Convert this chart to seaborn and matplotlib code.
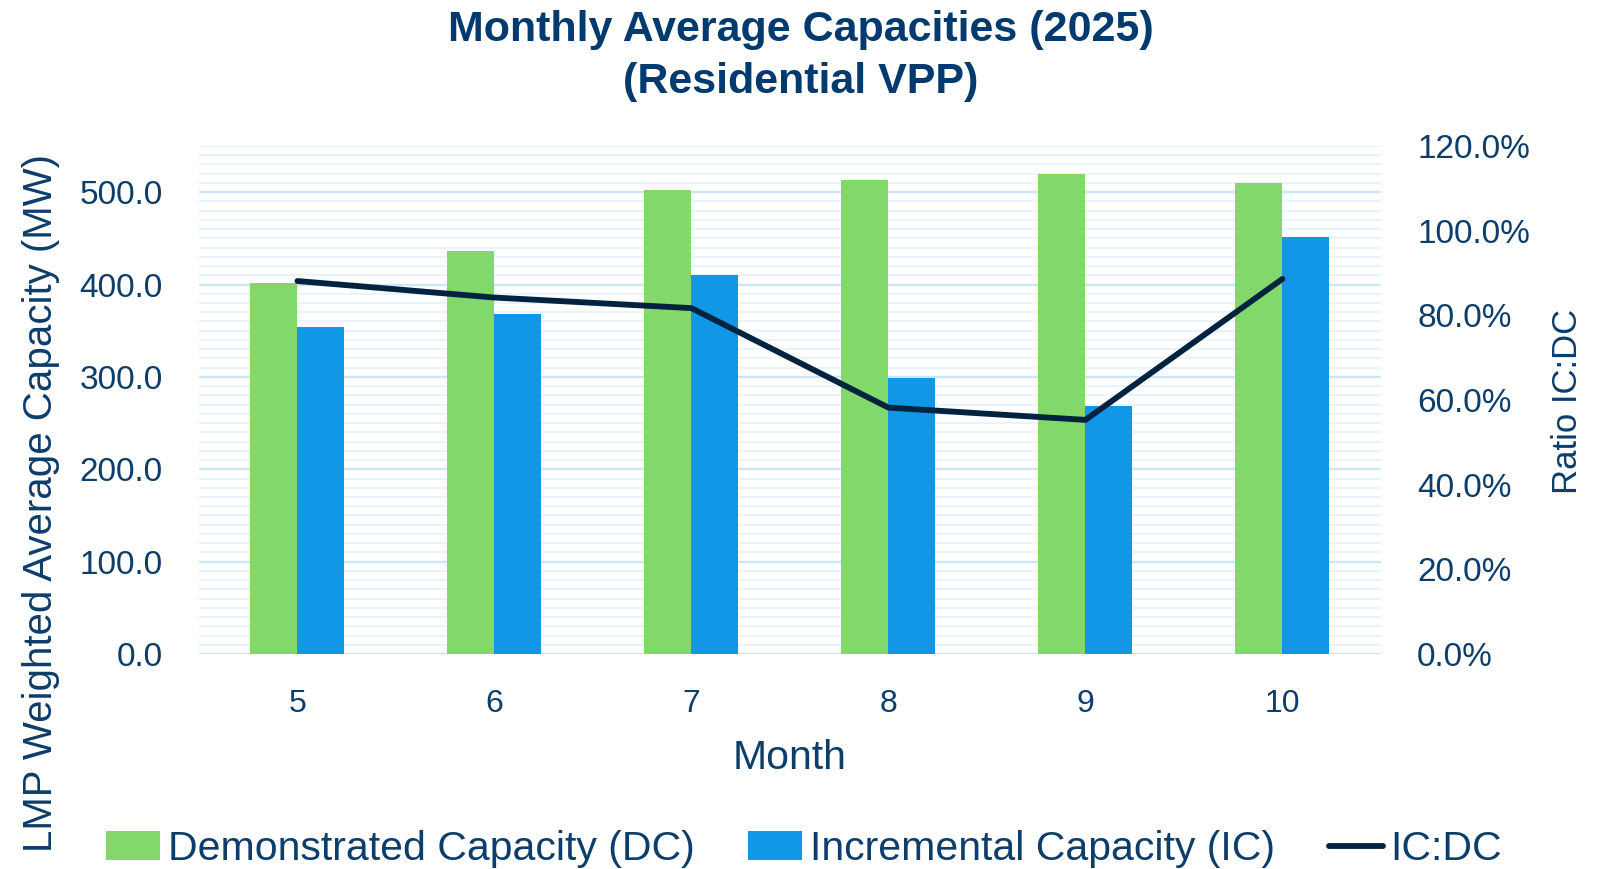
import numpy as np
import pandas as pd
import seaborn as sns
import matplotlib.pyplot as plt
from matplotlib.ticker import MultipleLocator, FuncFormatter
from matplotlib.patches import Patch
from matplotlib.lines import Line2D

# values
months = [5, 6, 7, 8, 9, 10]
demonstrated = [401.5, 436.5, 502.5, 513.5, 519.5, 509.5]
incremental = [354.0, 368.5, 410.5, 298.5, 268.5, 452.0]
ratio = [0.881, 0.842, 0.817, 0.582, 0.553, 0.886]
series_names = ['Demonstrated Capacity (DC)', 'Incremental Capacity (IC)']
line_name = 'IC:DC'

green = '#83D86B'
blue = '#1296E6'
navy = '#02233F'
text_col = '#0C3D6B'
title_col = '#003A6E'

sns.set_theme(style='white')
plt.rcParams['font.family'] = ['Liberation Sans', 'DejaVu Sans']

df = pd.DataFrame({
    'Month': months * 2,
    'Capacity': demonstrated + incremental,
    'Series': [series_names[0]] * len(months) + [series_names[1]] * len(months),
})

fig = plt.figure(figsize=(16.02, 8.69), dpi=100)
ax = fig.add_axes([0.1242, 0.2474, 0.7378, 0.5846])

sns.barplot(data=df, x='Month', y='Capacity', hue='Series', order=months,
            hue_order=series_names, palette=[green, blue], width=0.477,
            saturation=1, legend=False, ax=ax, zorder=2, linewidth=0)

ax.set_ylim(0, 550)
ax.set_xlim(-0.5, 5.5)
ax.yaxis.set_major_locator(MultipleLocator(100))
ax.yaxis.set_minor_locator(MultipleLocator(10))
ax.yaxis.set_major_formatter(FuncFormatter(lambda v, p: '%.1f' % v))
ax.set_axisbelow(True)
ax.grid(which='minor', axis='y', color='#EAF4FC', lw=1.4)
ax.grid(which='major', axis='y', color='#CCE5F8', lw=1.7)
ax.tick_params(which='both', length=0)
ax.tick_params(axis='y', labelsize=24, labelcolor=text_col, pad=26)
ax.tick_params(axis='x', labelsize=23, labelcolor=text_col, pad=25)
for s in ax.spines.values():
    s.set_visible(False)

ax.set_xlabel('Month', fontsize=29.5, color=text_col, va='center')
ax.xaxis.set_label_coords(0.5, -0.205)
ax.set_ylabel('LMP Weighted Average Capacity (MW)', fontsize=29, color=text_col, va='center')
ax.yaxis.set_label_coords(-0.134, 0.297)

ax2 = ax.twinx()
sns.lineplot(x=np.arange(len(months)), y=ratio, color=navy, lw=4.2, ax=ax2,
             solid_capstyle='round', solid_joinstyle='round')
ax2.set_ylim(0, 1.2)
ax2.set_xlim(-0.5, 5.5)
ax2.yaxis.set_major_locator(MultipleLocator(0.2))
ax2.yaxis.set_major_formatter(FuncFormatter(lambda v, p: '{:.1%}'.format(v)))
ax2.tick_params(length=0, labelsize=24, labelcolor=text_col, pad=26)
ax2.grid(False)
for s in ax2.spines.values():
    s.set_visible(False)
ax2.set_ylabel('Ratio IC:DC', fontsize=25, color=text_col, va='center')
ax2.yaxis.set_label_coords(1.158, 0.498)

fig.text(0.5, 0.953, 'Monthly Average Capacities (2025)', ha='center', va='baseline',
         fontsize=31, fontweight='bold', color=title_col)
fig.text(0.5, 0.893, '(Residential VPP)', ha='center', va='baseline',
         fontsize=31, fontweight='bold', color=title_col)

handles = [Patch(facecolor=green, edgecolor='none'),
           Patch(facecolor=blue, edgecolor='none'),
           Line2D([0], [0], color=navy, lw=4.2, solid_capstyle='round')]
leg = fig.legend(handles, series_names + [line_name], loc='center', ncol=3,
                 bbox_to_anchor=(0.502, 0.023), frameon=False, fontsize=29.5,
                 handlelength=1.31, handletextpad=0.2, columnspacing=1.31,
                 handleheight=0.7, borderaxespad=0)
for t in leg.get_texts():
    t.set_color(text_col)

fig.savefig('out.png', dpi=100)
